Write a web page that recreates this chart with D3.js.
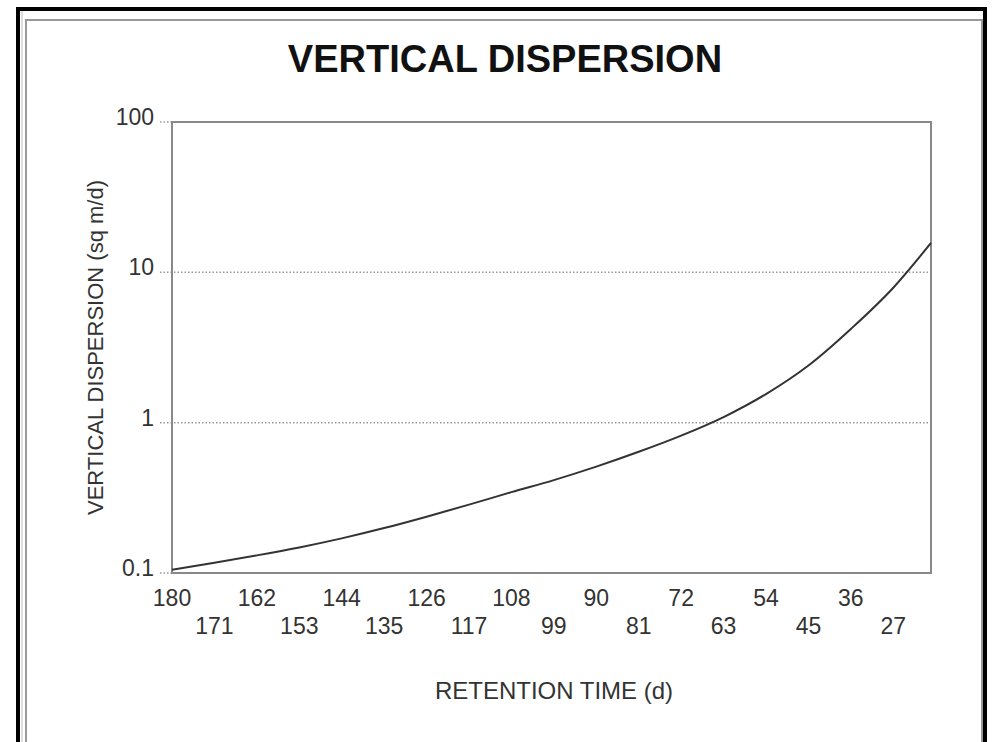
<!DOCTYPE html>
<html>
<head>
<meta charset="utf-8">
<script src="https://cdn.jsdelivr.net/npm/d3@7"></script>
<style>
  body { margin: 0; background: #fff; }
  text { font-family: "Liberation Sans", Arial, sans-serif; }
</style>
</head>
<body>
<script>
// retention time (d) and vertical dispersion (sq m/d)
const days = [180, 171, 162, 153, 144, 135, 126, 117, 108, 99, 90, 81, 72, 63, 54, 45, 36, 27, 19];
const dispersion = [0.105, 0.117, 0.131, 0.148, 0.17, 0.199, 0.237, 0.285, 0.345, 0.415, 0.51, 0.64, 0.82, 1.09, 1.55, 2.4, 4.2, 7.9, 15.7];
// tick labels
const xTicks = [180, 171, 162, 153, 144, 135, 126, 117, 108, 99, 90, 81, 72, 63, 54, 45, 36, 27];
const yTicks = [0.1, 1, 10, 100];

const width = 994, height = 742;
const svg = d3.select("body").append("svg")
    .attr("width", width)
    .attr("height", height);

// outer frame: thick black line with gray inner rules
svg.append("rect")
    .attr("x", 18).attr("y", 9)
    .attr("width", 967).attr("height", 760)
    .style("fill", "none").style("stroke", "#000").style("stroke-width", 4);
svg.append("line")
    .attr("x1", 22).attr("x2", 22).attr("y1", 11).attr("y2", 742)
    .style("stroke", "#bbb").style("stroke-width", 1);
svg.append("rect")
    .attr("x", 26).attr("y", 20)
    .attr("width", 956).attr("height", 740)
    .style("fill", "none").style("stroke", "#999").style("stroke-width", 2);

const plot = { left: 172, right: 931, top: 122, bottom: 573 };

// scales
const x = d3.scaleLinear()
    .domain([180, 19])
    .range([plot.left, plot.right]);
const y = d3.scaleLog()
    .domain([0.1, 100])
    .range([plot.bottom, plot.top]);

// title
svg.append("text")
    .attr("x", 505).attr("y", 72)
    .style("text-anchor", "middle")
    .style("font-size", "38px")
    .style("font-weight", "bold")
    .style("fill", "#111")
    .text("VERTICAL DISPERSION");

// dotted grid lines and tick stubs
svg.selectAll("grid")
    .data(yTicks).enter()
    .append("line")
    .attr("x1", plot.left - 12)
    .attr("x2", d => (d === 1 || d === 10) ? plot.right : plot.left)
    .attr("y1", d => y(d))
    .attr("y2", d => y(d))
    .style("stroke", "#999")
    .style("stroke-width", 1.5)
    .style("stroke-dasharray", "1.5,2");

// plot border
svg.append("rect")
    .attr("x", plot.left).attr("y", plot.top)
    .attr("width", plot.right - plot.left)
    .attr("height", plot.bottom - plot.top)
    .style("fill", "none").style("stroke", "#888").style("stroke-width", 2);

// y tick labels
svg.selectAll("ylab")
    .data(yTicks).enter()
    .append("text")
    .attr("x", 154)
    .attr("y", d => y(d) + 3)
    .style("text-anchor", "end")
    .style("font-size", "23px")
    .style("fill", "#333")
    .text(d => d3.format("~g")(d));

// x tick labels, alternating in two rows
svg.selectAll("xlab")
    .data(xTicks).enter()
    .append("text")
    .attr("x", d => x(d))
    .attr("y", (d, i) => i % 2 === 0 ? 606 : 634)
    .style("text-anchor", "middle")
    .style("font-size", "23px")
    .style("fill", "#333")
    .text(d => d);

// axis titles
svg.append("text")
    .attr("x", 554).attr("y", 699)
    .style("text-anchor", "middle")
    .style("font-size", "24px")
    .style("fill", "#333")
    .text("RETENTION TIME (d)");

svg.append("text")
    .attr("transform", "translate(103," + ((plot.top + plot.bottom) / 2) + ") rotate(-90)")
    .style("text-anchor", "middle")
    .style("font-size", "22px")
    .style("fill", "#333")
    .text("VERTICAL DISPERSION (sq m/d)");

// the curve
const data = days.map((d, i) => ({ day: d, value: dispersion[i] }));
svg.append("path")
    .datum(data)
    .attr("d", d3.line()
        .x(d => x(d.day))
        .y(d => y(d.value))
        .curve(d3.curveMonotoneX))
    .style("fill", "none")
    .style("stroke", "#333")
    .style("stroke-width", 2);
</script>
</body>
</html>
